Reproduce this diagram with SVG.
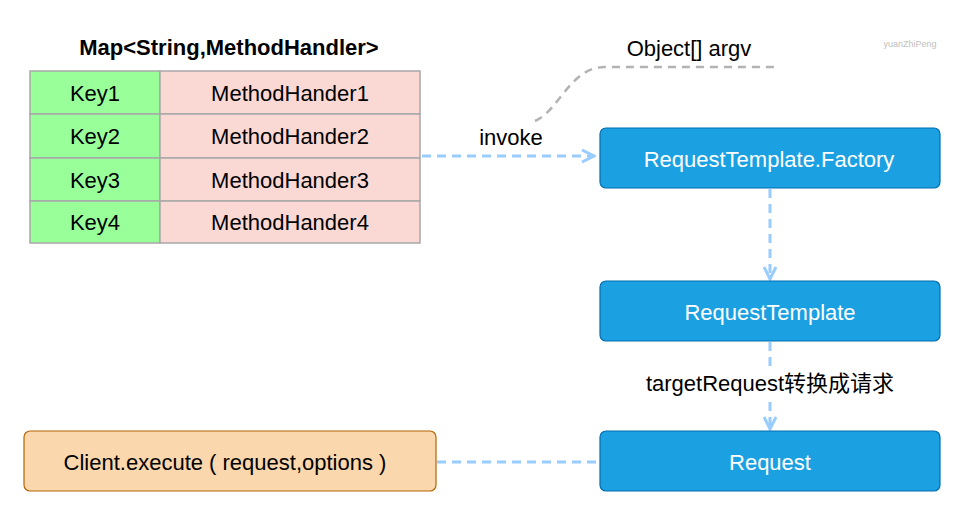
<svg xmlns="http://www.w3.org/2000/svg" width="966" height="517" viewBox="0 0 966 517">
<style>
text{font-family:"Liberation Sans","Noto Sans CJK SC",sans-serif;font-size:22px;text-anchor:middle;dominant-baseline:central;fill:#000}
.key{fill:#99ff99;stroke:#a8a8a8;stroke-width:1.5}
.val{fill:#fad9d5;stroke:#a8a8a8;stroke-width:1.5}
.blue{fill:#1ba1e2;stroke:#006eaf;stroke-width:1.2}
.blue+text{fill:#fff}
.orange{fill:#fad7ac;stroke:#b46504;stroke-width:1.2}
.edge{fill:none;stroke:#99ccff;stroke-width:3;stroke-dasharray:9 6}
.gray{fill:none;stroke:#b3b3b3;stroke-width:2.5;stroke-dasharray:8 6}
</style>
<defs>
<marker id="arr" viewBox="0 0 10 10" refX="9" refY="5" markerWidth="5" markerHeight="5" orient="auto" markerUnits="strokeWidth">
<path d="M1,1 L9,5 L1,9" fill="none" stroke="#99ccff" stroke-width="2"/>
</marker>
</defs>
<rect width="966" height="517" fill="#fff"/>
<g id="map">
<text x="229" y="47" style="font-weight:bold">Map&lt;String,MethodHandler&gt;</text>
<rect class="key" x="30" y="71" width="130" height="43"/>
<rect class="val" x="160" y="71" width="260" height="43"/>
<text x="95" y="93">Key1</text><text x="290" y="93">MethodHander1</text>
<rect class="key" x="30" y="114" width="130" height="44"/>
<rect class="val" x="160" y="114" width="260" height="44"/>
<text x="95" y="136">Key2</text><text x="290" y="136">MethodHander2</text>
<rect class="key" x="30" y="158" width="130" height="43"/>
<rect class="val" x="160" y="158" width="260" height="43"/>
<text x="95" y="180">Key3</text><text x="290" y="180">MethodHander3</text>
<rect class="key" x="30" y="201" width="130" height="42"/>
<rect class="val" x="160" y="201" width="260" height="42"/>
<text x="95" y="222">Key4</text><text x="290" y="222">MethodHander4</text>
</g>
<g id="connectors">
<path class="edge" d="M422,156 L594,156" marker-end="url(#arr)"/>
<text x="511" y="137">invoke</text>
<path class="gray" d="M535,121 C560,110 570,67 605,67 L778,67"/>
<text x="689" y="48">Object[] argv</text>
<path class="edge" d="M770,189 L770,279" marker-end="url(#arr)"/>
<path class="edge" d="M770,342 L770,429" marker-end="url(#arr)"/>
<rect x="622" y="369" width="296" height="28" fill="#fff"/>
<text x="770" y="383">targetRequest转换成请求</text>
<path class="edge" d="M437,462 L600,462"/>
</g>
<g id="factory">
<rect class="blue" x="600" y="128" width="340" height="60" rx="6"/>
<text x="769" y="159">RequestTemplate.Factory</text>
</g>
<g id="template">
<rect class="blue" x="600" y="281" width="340" height="60" rx="6"/>
<text x="770" y="312">RequestTemplate</text>
</g>
<g id="request">
<rect class="blue" x="600" y="431" width="340" height="60" rx="6"/>
<text x="770" y="462">Request</text>
</g>
<g id="client">
<rect class="orange" x="24" y="431" width="412" height="60" rx="6"/>
<text x="225" y="462">Client.execute ( request,options )</text>
</g>
<text x="910" y="44" style="font-size:9px;fill:#c0c0c0">yuanZhiPeng</text>
</svg>
